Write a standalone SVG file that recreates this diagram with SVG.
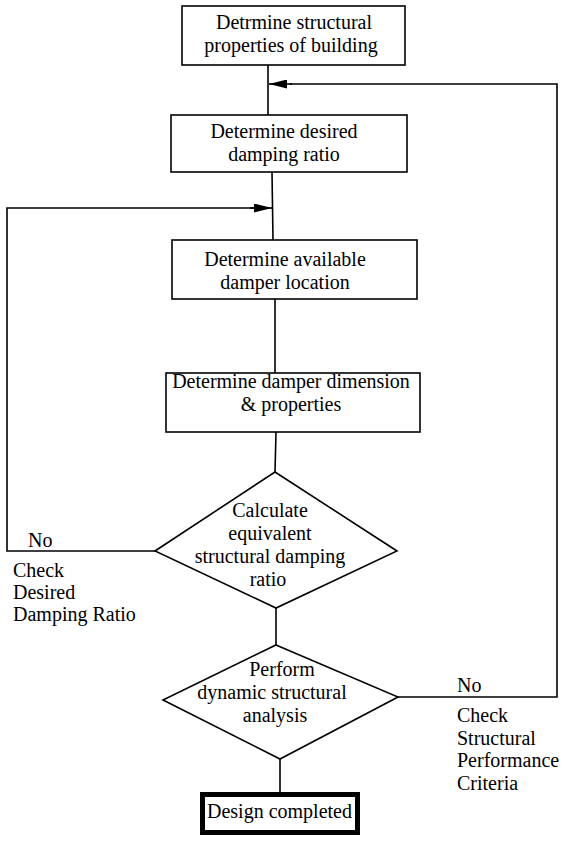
<svg xmlns="http://www.w3.org/2000/svg" width="570" height="841" viewBox="0 0 570 841">
<style>
.box{fill:#fff;stroke:#000;stroke-width:1.6}
.ln{fill:none;stroke:#000;stroke-width:1.6}
text{font-family:"Liberation Serif","Times New Roman",serif;font-size:20px;fill:#000}
.c{text-anchor:middle}
</style>
<defs>
<marker id="ah" viewBox="0 0 10 10" refX="10" refY="5" markerWidth="18" markerHeight="9" markerUnits="userSpaceOnUse" orient="auto" preserveAspectRatio="none">
<path d="M0,0 L10,5 L0,10 z" fill="#000"/>
</marker>
</defs>
<g id="connectors">
<line class="ln" x1="268" y1="65" x2="268" y2="115"/>
<line class="ln" x1="272" y1="172" x2="273" y2="240"/>
<line class="ln" x1="275" y1="299" x2="275" y2="373"/>
<line class="ln" x1="276" y1="432" x2="275" y2="472"/>
<line class="ln" x1="276" y1="608" x2="276" y2="645"/>
<line class="ln" x1="280" y1="759" x2="280" y2="792"/>
<polyline class="ln" points="155,551 7,551 7,208 254,208"/>
<line class="ln" x1="250" y1="208" x2="272" y2="208" marker-end="url(#ah)"/>
<polyline class="ln" points="398,697 557,697 557,84 290,84"/>
<line class="ln" x1="292" y1="84" x2="269" y2="84" marker-end="url(#ah)"/>
</g>
<g id="n1">
<rect class="box" x="182" y="6" width="223" height="59"/>
<text class="c" x="294" y="29">Detrmine structural</text>
<text class="c" x="291" y="52">properties of building</text>
</g>
<g id="n2">
<rect class="box" x="171" y="115" width="236" height="57"/>
<text class="c" x="284" y="138">Determine desired</text>
<text class="c" x="284" y="161">damping ratio</text>
</g>
<g id="n3">
<rect class="box" x="172" y="240" width="245" height="59"/>
<text class="c" x="285" y="266">Determine available</text>
<text class="c" x="285" y="289">damper location</text>
</g>
<g id="n4">
<rect class="box" x="166" y="373" width="254" height="59"/>
<text class="c" x="291" y="388">Determine damper dimension</text>
<text class="c" x="291" y="411">&amp; properties</text>
</g>
<g id="n5">
<polygon class="box" points="275,472 397,551 276,608 155,551"/>
<text class="c" x="270" y="517">Calculate</text>
<text class="c" x="270" y="540">equivalent</text>
<text class="c" x="270" y="563">structural damping</text>
<text class="c" x="268" y="586">ratio</text>
</g>
<g id="n6">
<polygon class="box" points="276,645 398,697 280,759 163,700"/>
<text class="c" x="282" y="676">Perform</text>
<text class="c" x="272" y="699">dynamic structural</text>
<text class="c" x="275" y="722">analysis</text>
</g>
<g id="n7">
<rect x="202.5" y="794.5" width="155" height="38" fill="#fff" stroke="#000" stroke-width="5"/>
<text x="207" y="818">Design completed</text>
</g>
<g id="labels">
<text x="28" y="547">No</text>
<text x="13" y="577">Check</text>
<text x="13" y="599">Desired</text>
<text x="13" y="621">Damping Ratio</text>
<text x="457" y="692">No</text>
<text x="457" y="722">Check</text>
<text x="457" y="745">Structural</text>
<text x="457" y="767">Performance</text>
<text x="457" y="790">Criteria</text>
</g>
</svg>
